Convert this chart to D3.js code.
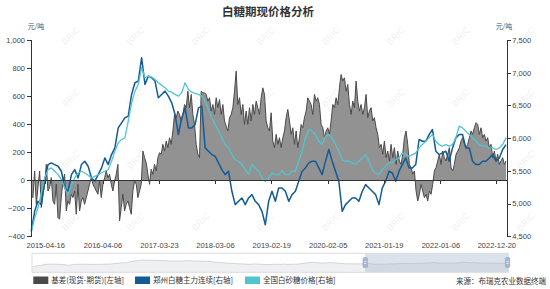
<!DOCTYPE html>
<html>
<head>
<meta charset="utf-8">
<script src="https://cdn.jsdelivr.net/npm/d3@7"></script>
<style>
  body { margin: 0; background: #fff; }
  svg { display: block; font-family: "Noto Sans CJK SC", "Microsoft YaHei", sans-serif; }
  .axis text { fill: #444; font-size: 7.5px; }
  .axis path, .axis line { stroke: #333; shape-rendering: crispEdges; }
</style>
</head>
<body>
<svg id="chart" width="550" height="289"></svg>
<script>
"use strict";

// categories / ticks
const firstDate = "2015-01-19",
  lastDate = "2023-02-18",
  tickDates = ["2015-04-16", "2016-04-06", "2017-03-23", "2018-03-06", "2019-02-19",
    "2020-02-05", "2021-01-19", "2022-01-06", "2022-12-20"],
  leftTicks = [-400, -200, 0, 200, 400, 600, 800, 1000],
  rightTicks = [4500, 5000, 5500, 6000, 6500, 7000, 7500],
  seriesNames = ["基差(现货-期货)[左轴]", "郑州白糖主力连续[右轴]", "全国白砂糖价格[右轴]"],
  seriesColors = ["#4a4a4a", "#135a96", "#52c4cf"]
;

// 基差 (元/吨)
const basis = [
  -112,-124,66,-172,-53,66,-195,-100,-29,113,-77,-53,18,-148,-172,-29,-266,-278,-124,-5,
  42,-219,-148,-172,-100,-124,-77,-243,-29,-219,-148,-124,-172,-124,-77,-29,18,-29,-53,-77,
  -100,-5,-124,-29,18,66,18,42,-29,-77,-5,42,113,-290,-195,-100,-219,-172,-148,-195,
  -243,-77,-5,-29,-124,-77,-29,208,161,125,42,
  -29,78,42,113,66,161,196,185,256,208,279,232,303,256,351,469,446,493,469,422,
  469,540,517,635,517,612,469,398,256,185,161,635,623,623,612,564,588,493,540,469,
  588,517,576,469,540,422,386,351,446,469,517,635,778,540,588,469,540,398,493,398,
  517,422,540,469,564,517,469,588,659,612,422,374,
  351,481,279,232,327,256,303,232,303,351,446,505,422,327,374,256,351,232,303,398,
  374,446,493,588,564,540,469,612,564,588,540,398,374,303,351,374,327,422,540,517,
  588,540,659,754,707,730,635,683,540,469,564,517,707,564,493,540,469,517,612,446,
  493,517,422,446,374,327,232,256,185,279,161,208,
  137,256,161,232,113,208,137,113,185,303,351,256,113,90,42,66,-77,-148,-100,-29,
  -77,-124,-100,-148,-77,-100,-29,66,90,137,185,113,208,161,137,185,232,90,66,113,
  185,208,232,279,303,256,232,256,303,351,327,374,410,398,327,374,303,327,279,303,
  232,256,161,208,137,185,113,137,161,113,137
];

// 郑州白糖主力连续 (元/吨)
const zzSugar = [
  4575,4882,5035,4984,5341,5596,5621,5596,5570,5494,5239,5188,5443,5519,5392,5596,5647,5570,
  5392,5341,5443,5545,5698,5596,5749,5851,6157,6234,6310,6336,6668,6846,6872,7229,6821,6948,
  6923,6872,6616,6668,6719,6642,6540,6361,6055,6310,6463,6157,6157,6208,6463,6489,5851,5800,
  5749,5723,5621,5519,5443,5494,5188,4984,5035,5086,4984,5086,5137,5035,4984,4882,4677,5035,
  5188,5035,5239,5239,5188,5035,5137,5188,5341,5494,5545,5621,5647,5647,5545,5443,5647,5826,
  5647,5494,5341,4882,4984,5035,5086,5086,5035,5188,5290,5239,5188,5137,4984,5239,5341,5494,
  5468,5341,5494,5596,5698,5545,5545,5596,5979,5953,5953,6055,6132,5800,5749,5774,5800,5647,
  5851,6004,6055,6055,5851,5851,5647,5596,5596,5647,5647,5698,5749,5647,5698,5826,5902
];

// 全国白砂糖价格 (元/吨)
const nationalSugar = [
  4575,4779,4932,5162,5392,5519,5545,5494,5443,5366,5239,5137,5290,5392,5468,5494,5468,5433,
  5392,5417,5443,5468,5494,5519,5647,5800,5928,5979,6004,6259,6540,6719,6821,7076,6923,6948,
  6933,6897,6846,6810,6770,6719,6703,6668,6642,6693,6846,6744,6703,6683,6668,6642,6565,6438,
  6310,6208,6106,6004,5902,5851,5749,5672,5647,5596,5519,5443,5596,5545,5494,5392,5341,5392,
  5468,5443,5443,5504,5443,5443,5494,5494,5647,5800,6004,6132,6106,6055,5953,5902,6030,6055,
  6004,5902,5800,5672,5647,5647,5621,5596,5647,5698,5749,5647,5519,5468,5443,5519,5570,5621,
  5621,5672,5698,5774,5749,5724,5749,5774,5851,5902,5953,6004,6055,5953,5902,5877,5902,5877,
  5902,6004,6183,6157,6106,6055,6004,5953,5902,5877,5877,5851,5851,5826,5851,5902,6004
];

const parse = d3.timeParse("%Y-%m-%d");
const svg = d3.select("#chart");

const plot = {left: 31.3, right: 506, top: 40, bottom: 236.3, axisRight: 507.3};

let x = d3.scaleTime().domain([parse(firstDate), parse(lastDate)]).range([plot.left, plot.right]),
  yL = d3.scaleLinear().domain([-400, 1000]).range([plot.bottom, plot.top]),
  yR = d3.scaleLinear().domain([4500, 7500]).range([plot.bottom, plot.top])
;

// samples are evenly spread over the date span
function xOf(arr) {
  let t = d3.scaleLinear().domain([0, arr.length - 1]).range(x.domain());
  return (d, i) => x(t(i));
}

// title
svg.append("text")
  .attr("x", 268).attr("y", 16)
  .attr("text-anchor", "middle")
  .attr("font-size", "11.5px").attr("font-weight", "bold").attr("fill", "#333")
  .text("白糖期现价格分析");

svg.append("text").attr("x", 36).attr("y", 29).attr("text-anchor", "middle")
  .attr("font-size", "7px").attr("fill", "#555").text("元/吨");
svg.append("text").attr("x", 504).attr("y", 29).attr("text-anchor", "middle")
  .attr("font-size", "7px").attr("fill", "#555").text("元/吨");

// basis area + line
svg.append("path")
  .datum(basis)
  .attr("d", d3.area().x(xOf(basis)).y0(yL(0)).y1(d => yL(d)))
  .attr("fill", seriesColors[0]).attr("fill-opacity", 0.6);

svg.append("path")
  .datum(basis)
  .attr("d", d3.line().x(xOf(basis)).y(d => yL(d)))
  .attr("fill", "none").attr("stroke", seriesColors[0]).attr("stroke-width", 1);

svg.append("path")
  .datum(zzSugar)
  .attr("d", d3.line().x(xOf(zzSugar)).y(d => yR(d)))
  .attr("fill", "none").attr("stroke", seriesColors[1]).attr("stroke-width", 1.5)
  .attr("stroke-linejoin", "round");

svg.append("path")
  .datum(nationalSugar)
  .attr("d", d3.line().x(xOf(nationalSugar)).y(d => yR(d)))
  .attr("fill", "none").attr("stroke", seriesColors[2]).attr("stroke-width", 1.3)
  .attr("stroke-linejoin", "round");

// axes
svg.append("g")
  .attr("class", "axis")
  .attr("transform", "translate(" + 31 + ",0)")
  .call(d3.axisLeft(yL).tickValues(leftTicks).tickSize(4).tickPadding(2).tickFormat(d3.format(",")));

svg.append("g")
  .attr("class", "axis")
  .attr("transform", "translate(" + plot.axisRight + ",0)")
  .call(d3.axisRight(yR).tickValues(rightTicks).tickSize(4).tickPadding(1).tickFormat(d3.format(",")));

let xZero = svg.append("g")
  .attr("class", "axis")
  .attr("transform", "translate(0," + yL(0) + ")")
  .call(d3.axisBottom(x).tickValues(tickDates.map(parse)).tickSize(4).tickSizeOuter(0).tickFormat(""));
xZero.select(".domain").attr("d", "M31,0H" + plot.axisRight);

svg.append("g")
  .attr("class", "axis")
  .attr("transform", "translate(0,238)")
  .call(d3.axisBottom(x).tickValues(tickDates.map(parse)).tickSize(0).tickPadding(4.5).tickFormat(d3.timeFormat("%Y-%m-%d")))
  .select(".domain").remove();

// data zoom slider
let sl = {x0: 32, x1: 508.3, y0: 253.3, y1: 272.3, sel0: 365},
  sx = d3.scaleLinear().domain([0, nationalSugar.length - 1]).range([sl.x0, sl.x1]),
  sy = d3.scaleLinear().domain([2500, 9500]).range([sl.y1, sl.y0]),
  slider = svg.append("g");

slider.append("path")
  .datum(nationalSugar)
  .attr("d", d3.area().x((d, i) => sx(i)).y0(sl.y1).y1(d => sy(d)))
  .attr("fill", "rgba(47,69,84,0.08)");
slider.append("path")
  .datum(nationalSugar)
  .attr("d", d3.line().x((d, i) => sx(i)).y(d => sy(d)))
  .attr("fill", "none").attr("stroke", "rgba(47,69,84,0.3)").attr("stroke-width", 0.6);
slider.append("rect")
  .attr("x", sl.sel0).attr("y", sl.y0).attr("width", sl.x1 - sl.sel0).attr("height", sl.y1 - sl.y0)
  .attr("fill", "rgba(167,183,204,0.4)");
slider.append("rect")
  .attr("x", sl.x0).attr("y", sl.y0).attr("width", sl.x1 - sl.x0).attr("height", sl.y1 - sl.y0)
  .attr("fill", "none").attr("stroke", "#ddd");
[sl.sel0, sl.x1 - 1].forEach(function(hx) {
  slider.append("rect")
    .attr("x", hx - 2).attr("y", 257.5).attr("width", 4.5).attr("height", 10).attr("rx", 1)
    .attr("fill", "#a7b7cc").attr("stroke", "#8fa3bd").attr("stroke-width", 0.5);
  slider.append("line")
    .attr("x1", hx - 1).attr("x2", hx + 1.5).attr("y1", 261.5).attr("y2", 261.5)
    .attr("stroke", "#fff").attr("stroke-width", 0.6);
  slider.append("line")
    .attr("x1", hx - 1).attr("x2", hx + 1.5).attr("y1", 263.5).attr("y2", 263.5)
    .attr("stroke", "#fff").attr("stroke-width", 0.6);
});

// legend
let legendX = [33.3, 135, 245],
  legend = svg.append("g").selectAll("g")
    .data(seriesNames)
    .enter().append("g")
    .attr("transform", (d, i) => "translate(" + legendX[i] + ",276.5)");

legend.append("rect")
  .attr("width", 15).attr("height", 7.5)
  .attr("fill", (d, i) => seriesColors[i]);
legend.append("text")
  .attr("x", 18).attr("y", 6.8)
  .attr("font-size", "7.5px").attr("fill", "#333")
  .text(d => d);

svg.append("text")
  .attr("x", 546).attr("y", 284)
  .attr("text-anchor", "end")
  .attr("font-size", "7.5px").attr("fill", "#333")
  .text("来源：布瑞克农业数据终端");

// watermark
let marks = svg.append("g").attr("pointer-events", "none");
for (let row = 0; row < 4; row++) {
  for (let col = 0; col < 8; col++) {
    let mx = 73 + col * 65, my = 38 + row * 62;
    marks.append("text")
      .attr("transform", "translate(" + mx + "," + my + ") rotate(-45)")
      .attr("text-anchor", "middle")
      .attr("font-size", "9px").attr("font-family", "Arial, Liberation Sans, sans-serif")
      .attr("fill", "rgba(160,160,160,0.18)")
      .text("BRIC");
  }
}
</script>
</body>
</html>
